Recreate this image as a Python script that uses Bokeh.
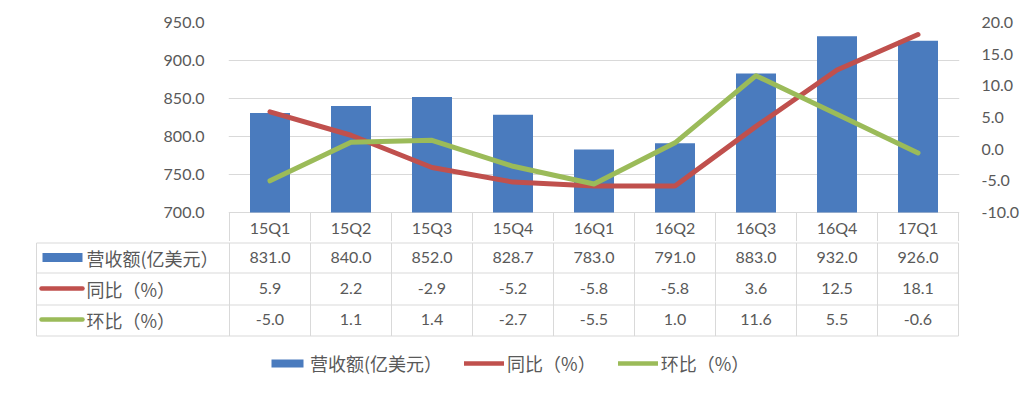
from bokeh.plotting import figure
from bokeh.models import (Range1d, LinearAxis, FixedTicker, NumeralTickFormatter,
                          Legend, LegendItem, ColumnDataSource)
from bokeh.layouts import column, row
from bokeh.embed import file_html
from bokeh.resources import INLINE
from bokeh.core.properties import value

# ---------------- data ----------------
quarters = ["15Q1", "15Q2", "15Q3", "15Q4", "16Q1", "16Q2", "16Q3", "16Q4", "17Q1"]
revenue = [831.0, 840.0, 852.0, 828.7, 783.0, 791.0, 883.0, 932.0, 926.0]
yoy = [5.9, 2.2, -2.9, -5.2, -5.8, -5.8, 3.6, 12.5, 18.1]
qoq = [-5.0, 1.1, 1.4, -2.7, -5.5, 1.0, 11.6, 5.5, -0.6]
left_ticks = [700, 750, 800, 850, 900, 950]
right_ticks = [-10, -5, 0, 5, 10, 15, 20]
series_names = ["营收额(亿美元）", "同比（%）", "环比（%）"]

# ---------------- styling ----------------
BLUE = "#4A7BBE"
RED = "#C0504D"
GREEN = "#9BBB59"
TEXT = "#595959"
GRID = "#D9D9D9"
NUM_FONT = "Lato"
CJK_FONT = "Noto Sans CJK SC"
FS = "16px"
CFS = "18px"

W = 1033
PX = 81.0          # pixels per category
n = len(quarters)
centers = [i + 0.5 for i in range(n)]

L_MIN, L_MAX = left_ticks[0], left_ticks[-1]
R_MIN, R_MAX = right_ticks[0], right_ticks[-1]
CHART_PX = 190     # pixel height of value area
HA = 241
TOP_A = 22
FRAME_A = HA - TOP_A
extra_px = FRAME_A - CHART_PX
l_per_px = (L_MAX - L_MIN) / CHART_PX
r_per_px = (R_MAX - R_MIN) / CHART_PX
FRAME_L = 228
FRAME_R = 959

# ---------------- chart figure ----------------
pa = figure(width=W, height=HA, output_backend="svg", toolbar_location=None,
            x_range=Range1d(-1 / PX, n + 1 / PX),
            y_range=Range1d(L_MIN - extra_px * l_per_px, L_MAX),
            x_axis_location=None,
            min_border_left=FRAME_L, min_border_right=W - FRAME_R,
            min_border_top=TOP_A, min_border_bottom=0)
pa.extra_y_ranges = {"pct": Range1d(R_MIN - extra_px * r_per_px, R_MAX)}
pa.outline_line_color = None
pa.xgrid.visible = False
pa.ygrid.ticker = FixedTicker(ticks=left_ticks)
pa.ygrid.grid_line_color = GRID
pa.ygrid.grid_line_width = 1

yl = pa.yaxis[0]
yl.ticker = FixedTicker(ticks=left_ticks)
yl.formatter = NumeralTickFormatter(format="0.0")
yr = LinearAxis(y_range_name="pct", ticker=FixedTicker(ticks=right_ticks),
                formatter=NumeralTickFormatter(format="0.0"))
pa.add_layout(yr, "right")
for ax, so in ((yl, 18), (yr, 16)):
    ax.axis_line_color = None
    ax.major_tick_line_color = None
    ax.minor_tick_line_color = None
    ax.major_label_standoff = so
    ax.major_label_text_font = NUM_FONT
    ax.major_label_text_font_size = FS
    ax.major_label_text_color = TEXT

src = ColumnDataSource(dict(x=centers, rev=revenue, yoy=yoy, qoq=qoq, q=quarters))
pa.vbar(x="x", top="rev", bottom=L_MIN, width=40 / PX, source=src,
        fill_color=BLUE, line_color=None)
pa.line(x="x", y="yoy", source=src, y_range_name="pct", line_color=RED,
        line_width=5, line_cap="round", line_join="round")
pa.line(x="x", y="qoq", source=src, y_range_name="pct", line_color=GREEN,
        line_width=5, line_cap="round", line_join="round")

# header row (category labels) under the value area
hdr_y = L_MIN - 15 * l_per_px
pa.text(x="x", y=hdr_y, text="q", source=src, text_align="center",
        text_baseline="middle", text_font=value(NUM_FONT),
        text_font_size=FS, text_color=TEXT)
bounds = list(range(n + 1))
pa.segment(x0=bounds, x1=bounds, y0=L_MIN - extra_px * l_per_px, y1=L_MIN,
           line_color=GRID, line_width=1)

# ---------------- table figure ----------------
HB = 150
TAB_L = 35
left_px = (FRAME_L + 1) - TAB_L
pb = figure(width=W, height=HB, output_backend="svg", toolbar_location=None,
            x_range=Range1d(-left_px / PX, n + 1 / PX),
            y_range=Range1d(HB, 0),
            x_axis_location=None, y_axis_location=None,
            min_border_left=TAB_L, min_border_right=W - FRAME_R,
            min_border_top=0, min_border_bottom=0)
pb.outline_line_color = None
pb.grid.visible = False

x_left = -left_px / PX + 1 / PX
row_lines = [1.5, 31.5, 63.5, 94.5]
pb.segment(x0=[x_left] * len(row_lines), x1=[n] * len(row_lines),
           y0=row_lines, y1=row_lines, line_color=GRID, line_width=1)
vx = [x_left] + bounds
pb.segment(x0=vx, x1=vx, y0=[row_lines[0]] * len(vx), y1=[row_lines[-1]] * len(vx),
           line_color=GRID, line_width=1)

row_y = [16, 47, 78]
rows = [revenue, yoy, qoq]
for ry, vals in zip(row_y, rows):
    pb.text(x=centers, y=[ry] * n, text=[f"{v:.1f}" for v in vals],
            text_align="center", text_baseline="middle",
            text_font=value(NUM_FONT), text_font_size=FS, text_color=TEXT)

lab_x = (86 - 229) / PX
pb.text(x=[lab_x] * 3, y=row_y, text=series_names, text_align="left",
        text_baseline="middle", text_font=value(CJK_FONT),
        text_font_size=CFS, text_color=TEXT)

key_c = (62 - 229) / PX
k_bar = pb.rect(x=[key_c], y=[row_y[0]], width=40, height=9,
                width_units="screen", height_units="screen",
                fill_color=BLUE, line_color=None)
k0 = (41 - 229) / PX
k1 = (82 - 229) / PX
k_red = pb.segment(x0=[k0], x1=[k1], y0=[row_y[1]], y1=[row_y[1]],
                   line_color=RED, line_width=4.5, line_cap="round")
k_green = pb.segment(x0=[k0], x1=[k1], y0=[row_y[2]], y1=[row_y[2]],
                     line_color=GREEN, line_width=4.5, line_cap="round")

legend = Legend(items=[LegendItem(label=series_names[0], renderers=[k_bar]),
                       LegendItem(label=series_names[1], renderers=[k_red]),
                       LegendItem(label=series_names[2], renderers=[k_green])],
                orientation="horizontal", location=(267 - TAB_L, 15),
                glyph_width=40, glyph_height=10, label_standoff=3, spacing=22,
                padding=0, margin=0, border_line_alpha=0,
                background_fill_alpha=0,
                label_text_font=CJK_FONT, label_text_font_size=CFS,
                label_text_color=TEXT)
pb.add_layout(legend)

layout = column(row(pa), row(pb), spacing=0)
open("out.html", "w").write(file_html(layout, INLINE))
